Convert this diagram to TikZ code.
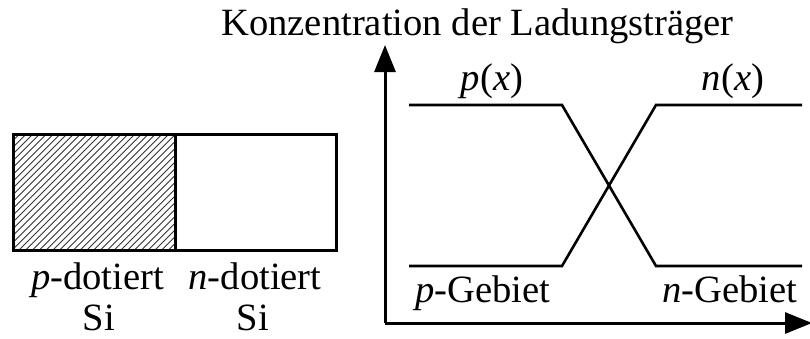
\documentclass[tikz,border=0pt]{standalone}
\usepackage{fontspec}
\setmainfont{Liberation Serif}
\usetikzlibrary{arrows.meta}
\begin{document}
\begin{tikzpicture}[x=1pt,y=-1pt,
  lbl/.style={font=\fontsize{38.6}{44}\selectfont, inner sep=0pt, anchor=base},
  thick line/.style={line width=3pt, line join=miter},
  curve/.style={line width=2.6pt},
  axis/.style={line width=3pt, -{Triangle[length=27pt,width=21pt]}},
  hatch/.style={line width=0.9pt, black!80}]
\useasboundingbox (0,0) rectangle (810,338);
% hatched p region
\begin{scope}
  \clip (13,134) rectangle (175,250);
  \foreach \i in {0,...,45} {
    \draw[hatch] (13+\i*6.8-130,250) -- (13+\i*6.8-14,134);
  }
\end{scope}
\draw[thick line] (13,134) rectangle (336,250);
\draw[thick line] (175,134) -- (175,250);
% labels under the block
\node[lbl] (pdot) at (97.5,289) {\textit{p}-dotiert};
\node[lbl] (ndot) at (255,289) {\textit{n}-dotiert};
\node[lbl] (si1) at (99,330) {Si};
\node[lbl] (si2) at (253,330) {Si};
% axes
\coordinate (O) at (385,323);
\coordinate (Y) at (385,45);
\coordinate (X) at (812,323);
\draw[axis] (O) -- (Y);
\draw[axis] (O) -- (X);
\node[lbl] (title) at (477.5,35) {Konzentration der Ladungsträger};
% curves
\coordinate (a1) at (409,105);
\coordinate (a2) at (562,105);
\coordinate (a3) at (656,266);
\coordinate (a4) at (802,266);
\coordinate (b1) at (409,266);
\coordinate (b2) at (562,266);
\coordinate (b3) at (656,105);
\coordinate (b4) at (802,105);
\draw[curve] (a1) -- (a2) -- (a3) -- (a4);
\draw[curve] (b1) -- (b2) -- (b3) -- (b4);
\node[lbl] (px) at (492,90) {\textit{p}(\textit{x})};
\node[lbl] (nx) at (733,90) {\textit{n}(\textit{x})};
\node[lbl] (pg) at (483,302) {\textit{p}-Gebiet};
\node[lbl] (ng) at (730,302) {\textit{n}-Gebiet};
\end{tikzpicture}
\end{document}
